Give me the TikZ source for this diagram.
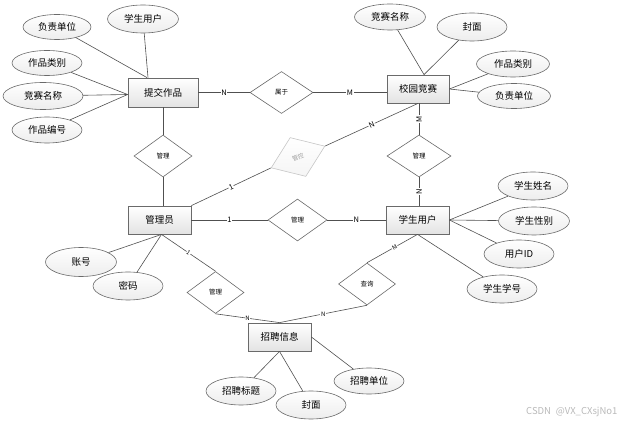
\documentclass[tikz,border=0pt]{standalone}
\usepackage{fontspec}
\setmainfont{Noto Sans CJK SC}
\usetikzlibrary{shapes.geometric,shadows}
\definecolor{lncol}{HTML}{505050}
\definecolor{bdcol}{HTML}{6A6A6A}
\tikzset{
  ent/.style={rectangle, draw=bdcol, line width=0.8pt, top color=white, bottom color=gray!22,
    minimum width=63pt, minimum height=28pt, inner sep=0pt,
    font=\fontsize{9.5}{10}\selectfont,
    drop shadow={opacity=0.25, shadow xshift=1.2pt, shadow yshift=-1.2pt}},
  attr/.style={ellipse, draw=bdcol, line width=0.6pt, top color=white, bottom color=gray!14,
    minimum width=70pt, minimum height=27pt, inner sep=0pt,
    font=\fontsize{9.5}{10}\selectfont},
  rel/.style={diamond, draw=bdcol, line width=0.6pt, fill=white,
    minimum width=58pt, minimum height=42pt, inner sep=0pt,
    font=\fontsize{6.5}{7}\selectfont},
  ln/.style={draw=lncol, line width=0.6pt},
  lab/.style={fill=white, inner sep=0.6pt, font=\fontsize{7.5}{8}\selectfont}
}
\begin{document}
\begin{tikzpicture}[x=1pt,y=-1pt]
\useasboundingbox (0,0) rectangle (625,425);
% entities
\node[ent, minimum width=70pt, minimum height=29pt] (tj) at (163,92.5) {提交作品};
\node[ent, minimum width=62pt] (jx) at (418,89) {校园竞赛};
\node[ent] (gly) at (159.5,220) {管理员};
\node[ent] (xs) at (417.5,220) {学生用户};
\node[ent] (zp) at (279.5,337) {招聘信息};
% relationships
\node[rel, minimum width=63pt] (sy) at (281.5,92.5) {属于};
\node[rel] (gl1) at (163,156) {管理};
\node[rel, minimum width=64pt] (gl2) at (419,156) {管理};
\node[rel, minimum width=59pt] (gl3) at (297.5,220) {管理};
\node[rel, draw=gray!45, top color=white, bottom color=gray!8, text=gray!75,
  font=\fontsize{6}{7}\selectfont, rotate=22] (gk) at (298,157) {管控};
\node[rel, minimum width=57pt] (gl4) at (215.5,292.5) {管理};
\node[rel, minimum width=57pt] (cx) at (367,284) {查询};
% attributes of 提交作品
\node[attr, minimum width=68pt, minimum height=25pt] (a1) at (57,27) {负责单位};
\node[attr, minimum width=71pt, minimum height=28pt] (a2) at (143,19) {学生用户};
\node[attr, minimum height=25pt] (a3) at (47,63) {作品类别};
\node[attr, minimum width=80pt] (a4) at (43,96) {竞赛名称};
\node[attr, minimum height=26pt] (a5) at (47,130) {作品编号};
% attributes of 校园竞赛
\node[attr, minimum width=71pt, minimum height=26pt] (b1) at (390,17) {竞赛名称};
\node[attr, minimum height=28pt] (b2) at (472,27) {封面};
\node[attr, minimum width=73pt, minimum height=26pt] (b3) at (513,64) {作品类别};
\node[attr, minimum width=73pt, minimum height=25pt] (b4) at (514,96) {负责单位};
% attributes of 学生用户
\node[attr, minimum height=28pt] (c1) at (533,186) {学生姓名};
\node[attr, minimum width=71pt, minimum height=28pt] (c2) at (534,221) {学生性别};
\node[attr, minimum height=28pt] (c3) at (519,254) {用户ID};
\node[attr, minimum height=28pt] (c4) at (502,289) {学生学号};
% attributes of 管理员
\node[attr, minimum width=71pt, minimum height=29pt] (d1) at (81,262) {账号};
\node[attr, minimum height=28pt] (d2) at (128,286) {密码};
% attributes of 招聘信息
\node[attr, minimum height=28pt] (e1) at (241,391) {招聘标题};
\node[attr, minimum height=28pt] (e2) at (311,405) {封面};
\node[attr, minimum height=26pt] (e3) at (369,381) {招聘单位};
% connectors: 提交作品
\draw[ln] (a1) -- ([xshift=-16pt]tj.north);
\draw[ln] (a2) -- ([xshift=-15pt]tj.north);
\draw[ln] (a3) -- ([yshift=-2pt]tj.west);
\draw[ln] (a4) -- ([yshift=-2pt]tj.west);
\draw[ln] (a5) -- ([yshift=-2pt]tj.west);
% 校园竞赛
\draw[ln] (b1) -- ([xshift=6pt]jx.north);
\draw[ln] (b2) -- ([xshift=6pt]jx.north);
\draw[ln] (b3) -- (jx.east);
\draw[ln] (b4) -- (jx.east);
% 学生用户
\draw[ln] (c1) -- (xs.east);
\draw[ln] (c2) -- (xs.east);
\draw[ln] (c3) -- (xs.east);
\draw[ln] (c4) -- (xs.south);
% 管理员
\draw[ln] (d1) -- ([xshift=2pt]gly.south);
\draw[ln] (d2) -- ([xshift=2pt]gly.south);
% 招聘信息
\draw[ln] (e1) -- (zp.south);
\draw[ln] (e2) -- (zp.south);
\draw[ln] (e3) -- (zp.east);
% relationships
\draw[ln] (tj.east) -- node[lab]{N} (sy.west);
\draw[ln] (sy.east) -- node[lab]{M} (sy.east -| jx.west);
\draw[ln] (gl1.north) -- (gl1.north |- tj.south);
\draw[ln] (gl1.south) -- (gl1.south |- gly.north);
\draw[ln] (jx.south -| gl2.north) -- node[lab, rotate=90]{M} (gl2.north);
\draw[ln] (gl2.south) -- node[lab, rotate=90]{N} (gl2.south |- xs.north);
\draw[ln] (gly.east) -- node[lab]{1} (gl3.west);
\draw[ln] (gl3.east) -- node[lab]{N} (xs.west);
\draw[ln] (gly.north east) -- node[lab, sloped]{1} (gk.west);
\draw[ln] (gk.east) -- node[lab, sloped]{N} (jx.south);
\draw[ln] ([xshift=2pt]gly.south) -- node[lab, sloped, pos=0.5, font=\fontsize{6}{7}\selectfont]{1} (gl4.north);
\draw[ln] (gl4.south) -- node[lab, pos=0.5, font=\fontsize{6}{7}\selectfont]{N} (zp.north);
\draw[ln] (cx.south) -- node[lab, pos=0.5, font=\fontsize{6}{7}\selectfont]{N} (zp.north);
\draw[ln] (xs.south) -- node[lab, sloped, pos=0.45, font=\fontsize{6}{7}\selectfont]{M} (cx.north);
% watermark
\node[text=gray!55, font=\fontsize{9.5}{10}\selectfont, anchor=east] (wm) at (621,412) {CSDN\enspace @VX\_CXsjNo1};
\end{tikzpicture}
\end{document}
